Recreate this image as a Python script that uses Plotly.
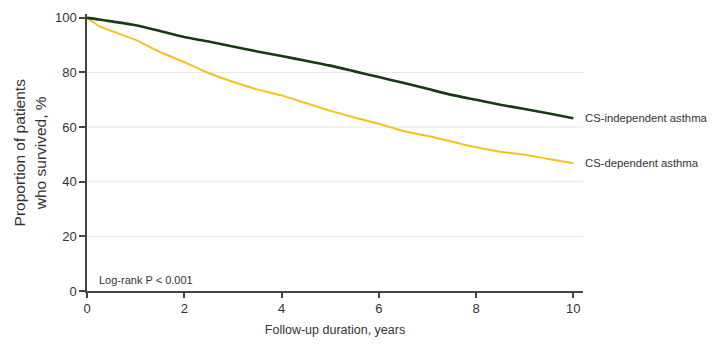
import plotly.graph_objects as go

years = [0, 0.25, 0.5, 1, 1.5, 2, 2.5, 3, 3.5, 4, 4.5, 5, 5.5, 6, 6.5, 7, 7.5, 8, 8.5, 9, 9.5, 10]
cs_independent = [100, 99.4, 98.7, 97.3, 95.2, 93.0, 91.3, 89.5, 87.7, 86.0, 84.3, 82.5, 80.4, 78.3, 76.2, 74.0, 71.8, 70.0, 68.2, 66.6, 65.0, 63.2]
cs_dependent = [100, 97.0, 95.2, 91.9, 87.5, 83.8, 79.8, 76.6, 73.8, 71.6, 68.8, 66.0, 63.5, 61.2, 58.6, 56.8, 54.7, 52.6, 51.0, 49.9, 48.3, 46.8]
series_names = ["CS-independent asthma", "CS-dependent asthma"]
series_colors = ["#163a14", "#f4c21a"]
x_ticks = [0, 2, 4, 6, 8, 10]
y_ticks = [0, 20, 40, 60, 80, 100]
grid_vals = [20, 40, 60, 80]

FONT = "Liberation Sans, Arial, sans-serif"
TXT = "#333333"

fig = go.Figure()
fig.add_trace(go.Scatter(x=years, y=cs_dependent, mode="lines",
                         line=dict(color=series_colors[1], width=2, shape="spline", smoothing=0.6),
                         showlegend=False, name=series_names[1]))
fig.add_trace(go.Scatter(x=years, y=cs_independent, mode="lines",
                         line=dict(color=series_colors[0], width=2.6, shape="spline", smoothing=0.6),
                         showlegend=False, name=series_names[0]))

for g in grid_vals:
    fig.add_shape(type="line", xref="paper", x0=0, x1=1, yref="y", y0=g, y1=g,
                  line=dict(color="#e6e6e6", width=1), layer="below")

for name, vals in zip(series_names, [cs_independent, cs_dependent]):
    fig.add_annotation(x=years[-1], y=vals[-1], text=name, showarrow=False,
                       xanchor="left", yanchor="middle", xshift=10,
                       font=dict(family=FONT, size=11.3, color=TXT))

fig.add_annotation(x=0.2, y=4, text="Log-rank P < 0.001", showarrow=False,
                   xanchor="left", yanchor="middle",
                   font=dict(family=FONT, size=11, color=TXT))

fig.add_annotation(xref="paper", yref="paper", x=-0.115, y=0.5,
                   text="Proportion of patients<br>who survived, %", showarrow=False,
                   textangle=-90, xanchor="center", yanchor="middle",
                   font=dict(family=FONT, size=15.5, color=TXT))

fig.update_layout(
    width=712, height=345,
    margin=dict(l=87, r=129, t=10, b=52),
    plot_bgcolor="white", paper_bgcolor="white",
    font=dict(family=FONT, color=TXT),
    xaxis=dict(range=[0, 10.2], tickvals=x_ticks, showgrid=False, zeroline=False,
               showline=True, linecolor="#444444", linewidth=1.5,
               ticks="outside", ticklen=5, tickcolor="#444444", tickwidth=1.5,
               tickfont=dict(family=FONT, size=13, color=TXT),
               title=dict(text="Follow-up duration, years", standoff=10,
                          font=dict(family=FONT, size=12.5, color=TXT))),
    yaxis=dict(range=[0, 101.4], tickvals=y_ticks, showgrid=False, zeroline=False,
               showline=True, linecolor="#444444", linewidth=1.5,
               ticks="outside", ticklen=6, tickcolor="#444444", tickwidth=1.5,
               tickfont=dict(family=FONT, size=13, color=TXT)),
)

fig.write_html("out.html")
